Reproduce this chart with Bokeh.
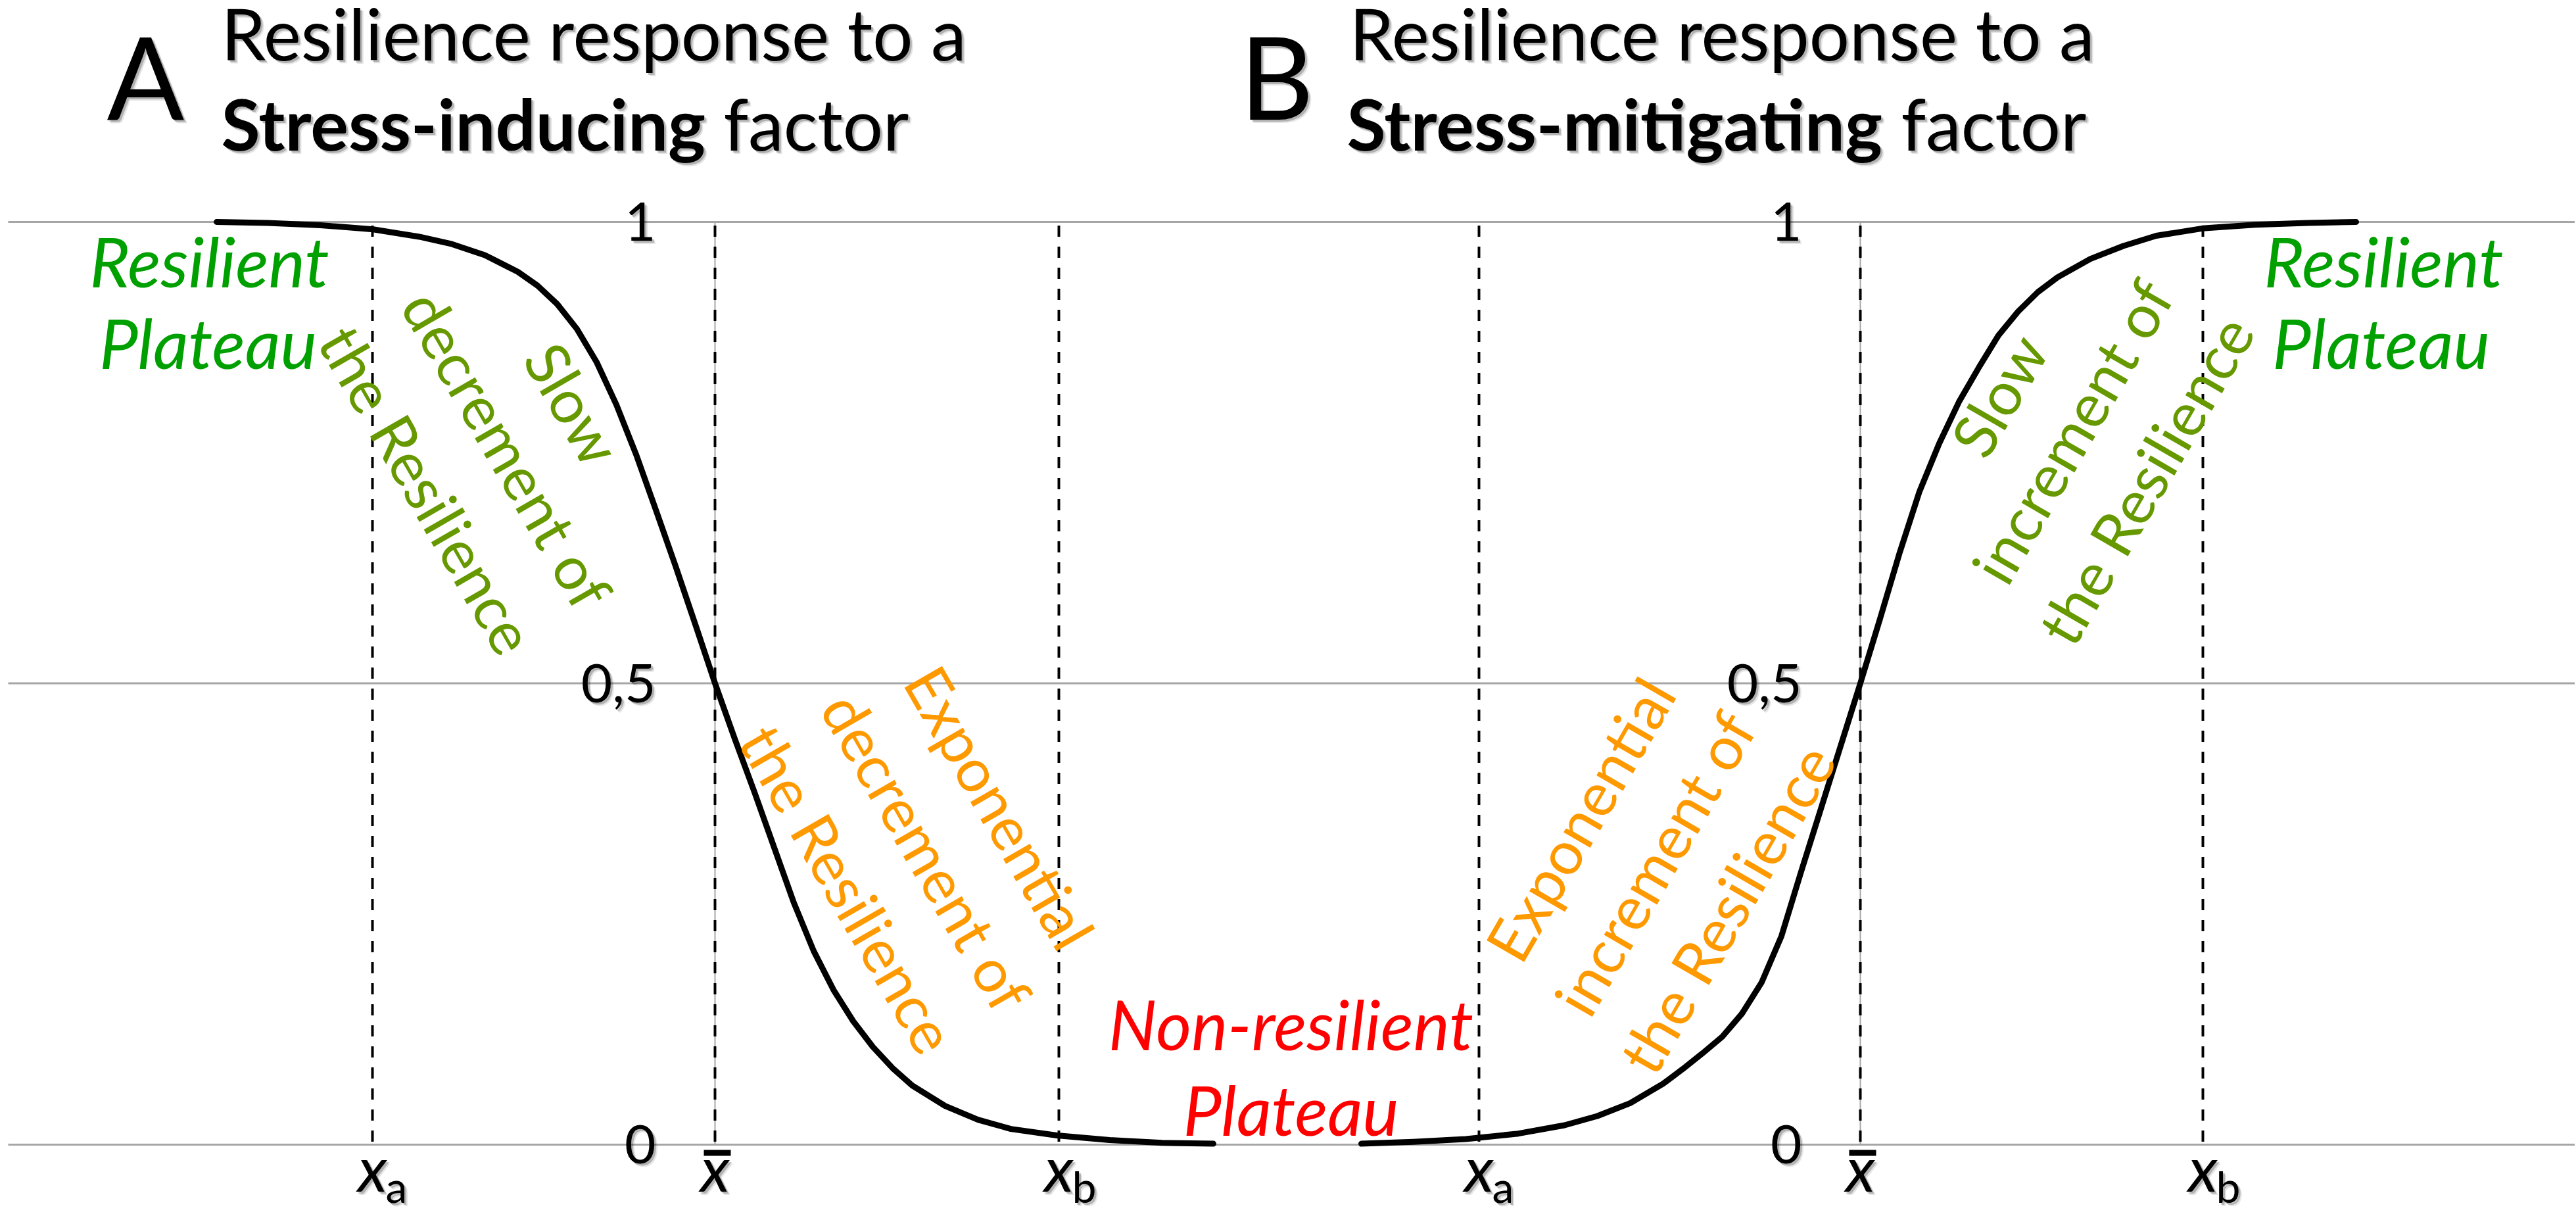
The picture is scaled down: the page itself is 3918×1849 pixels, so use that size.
import math
from bokeh.plotting import figure
from bokeh.models import Range1d, ColumnDataSource
from bokeh.embed import file_html
from bokeh.resources import INLINE
from bokeh.core.properties import value

# ---------------- data ----------------
# x in arbitrary position units, y = resilience (0..1)
grid_levels = [0.0, 0.5, 1.0]
tick_text = ["0", "0,5", "1"]

# Panel A: response to a stress-inducing factor
a_curve_x = [3.29, 4.07, 4.87, 5.67, 6.37, 6.87, 7.37, 7.87, 8.17, 8.47, 8.77, 9.07,
             9.37, 9.67, 9.97, 10.27, 10.57, 10.87, 11.17, 11.47, 11.77, 12.07, 12.37,
             12.67, 12.97, 13.27, 13.57, 13.87, 14.37, 14.87, 15.37, 16.07, 16.87,
             17.67, 18.45]
a_curve_y = [1.000, 0.999, 0.9965, 0.992, 0.984, 0.976, 0.964, 0.946, 0.931, 0.911,
             0.884, 0.848, 0.802, 0.748, 0.688, 0.627, 0.564, 0.500, 0.440, 0.382,
             0.322, 0.262, 0.210, 0.168, 0.134, 0.106, 0.083, 0.064, 0.042, 0.027,
             0.017, 0.010, 0.005, 0.002, 0.001]
a_marks_x = [5.66, 10.87, 16.10]          # x_a, x-bar, x_b

# Panel B: response to a stress-mitigating factor
b_curve_x = [20.70, 21.49, 22.29, 23.09, 23.79, 24.29, 24.79, 25.29, 25.59, 25.89,
             26.19, 26.49, 26.79, 27.09, 27.39, 27.69, 27.99, 28.29, 28.59, 28.89,
             29.19, 29.49, 29.79, 30.09, 30.39, 30.69, 30.99, 31.29, 31.79, 32.29,
             32.79, 33.49, 34.29, 35.09, 35.83]
b_curve_y = [0.001, 0.003, 0.006, 0.012, 0.021, 0.031, 0.045, 0.066, 0.082, 0.099,
             0.117, 0.142, 0.176, 0.226, 0.296, 0.364, 0.432, 0.500, 0.570, 0.642,
             0.708, 0.760, 0.805, 0.842, 0.877, 0.903, 0.924, 0.940, 0.960, 0.974,
             0.985, 0.993, 0.997, 0.999, 1.000]
b_marks_x = [22.49, 28.29, 33.50]

mark_top = 0.996
sub_names = ["a", "b"]

FONT = "Lato"
GREEN = "#00a000"
OLIVE = "#669900"
ORANGE = "#ff9900"
RED = "#ff0000"
GRID = "#a6a6a6"

W, H = 3916, 1847
p = figure(width=W, height=H, output_backend="svg", toolbar_location=None,
           x_range=Range1d(0.0, 39.16), y_range=Range1d(-0.07627, 1.2402),
           x_axis_location=None, y_axis_location=None, min_border=0,
           outline_line_color=None, background_fill_color="white",
           border_fill_color="white")
p.grid.visible = False


def txt(texts, xs, ys, size, color="black", style="normal", align="left",
        baseline="middle", angle=0.0, shadow=False):
    src = ColumnDataSource(dict(x=xs, y=ys, text=texts))
    common = dict(x="x", y="y", text="text", source=src, text_font=value(FONT),
                  text_font_size=f"{size}px", text_font_style=style,
                  text_align=align, text_baseline=baseline, angle=angle)
    if shadow:
        for d, a in [(3, 0.22), (5, 0.10)]:
            p.text(text_color="black", text_alpha=a, x_offset=d, y_offset=d, **common)
    p.text(text_color=color, **common)


# horizontal grid lines
p.segment(x0=[0.12] * 3, x1=[39.16] * 3, y0=grid_levels, y1=grid_levels,
          line_color=GRID, line_width=3)

for curve_x, curve_y, marks, tick_x in [(a_curve_x, a_curve_y, a_marks_x, 9.97),
                                        (b_curve_x, b_curve_y, b_marks_x, 27.40)]:
    xbar = marks[1]
    # thin vertical axis at x-bar
    p.segment(x0=[xbar], x1=[xbar], y0=[0], y1=[1], line_color=GRID, line_width=2)
    # dashed reference lines
    p.segment(x0=marks, x1=marks, y0=[mark_top] * 3, y1=[0] * 3,
              line_color="black", line_width=4, line_dash="17 15")
    # sigmoid curve
    p.line(curve_x, curve_y, line_color="black", line_width=9, line_cap="round",
           line_join="round")
    # tick labels
    txt(tick_text, [tick_x] * 3, grid_levels, 82, align="right", shadow=True)
    # x labels
    txt(["x"] * 3, marks, [-0.0242] * 3, 96, style="italic", align="center", shadow=True)
    txt(sub_names, [marks[0] + 0.20, marks[2] + 0.20], [-0.0449] * 2, 66,
        align="left", shadow=True)
    p.segment(x0=[xbar - 0.17], x1=[xbar + 0.24], y0=[-0.0089], y1=[-0.0089],
              line_color="black", line_width=9)

# titles
txt(["A", "B"], [1.62, 18.85], [1.1593] * 2, 174, shadow=True)
txt(["Resilience response to a"] * 2, [3.36, 20.52], [1.2050] * 2, 108, shadow=True)
txt(["Stress-inducing", "Stress-mitigating"], [3.36, 20.48], [1.1076] * 2, 108,
    style="bold", shadow=True)
txt(["factor", "factor"], [11.00, 28.91], [1.1076] * 2, 108, shadow=True)

# plateau labels
txt(["Resilient", "Plateau", "Resilient", "Plateau"], [3.18, 3.16, 36.25, 36.21],
    [0.958, 0.870, 0.958, 0.870], 105, color=GREEN, style="italic", align="center")
txt(["Non-resilient", "Plateau"], [19.63, 19.63], [0.1308, 0.0388], 104, color=RED,
    style="italic", align="center")

# rotated phase labels
dec = -math.pi / 3
inc = math.pi / 3
txt(["Slow", "decrement of", "the Resilience"], [8.72, 7.72, 6.50],
    [0.8033, 0.7541, 0.7099], 92, color=OLIVE, align="center", angle=dec)
txt(["Exponential", "decrement of", "the Resilience"], [15.21, 14.10, 12.90],
    [0.3656, 0.3179, 0.2773], 92, color=ORANGE, align="center", angle=dec)
txt(["Exponential", "increment of", "the Resilience"], [24.02, 25.15, 26.25],
    [0.3528, 0.3051, 0.2559], 92, color=ORANGE, align="center", angle=inc)
txt(["Slow", "increment of", "the Resilience"], [30.39, 31.50, 32.62],
    [0.8125, 0.7733, 0.7206], 92, color=OLIVE, align="center", angle=inc)

open("out.html", "w").write(file_html(p, INLINE))
